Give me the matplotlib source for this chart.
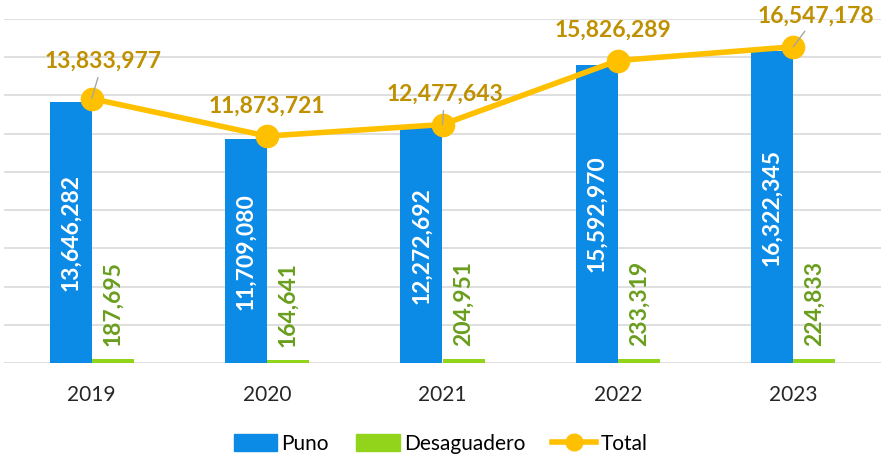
import matplotlib
matplotlib.use("Agg")
import matplotlib.pyplot as plt
from matplotlib.lines import Line2D
from matplotlib.patches import Patch
import numpy as np

plt.rcParams['font.family'] = ['Lato', 'DejaVu Sans']

YEARS = ["2019", "2020", "2021", "2022", "2023"]
PUNO = [13646282, 11709080, 12272692, 15592970, 16322345]
DESAGUADERO = [187695, 164641, 204951, 233319, 224833]
TOTAL = [13833977, 11873721, 12477643, 15826289, 16547178]

BLUE = "#0B8AE6"
GREEN = "#92D41C"
GREEN_TXT = "#6A9E1E"
GOLD = "#FFC000"
GOLD_TXT = "#BF9000"

# label offsets (pixels) for the total labels, with leader lines where far
TOTAL_OFFSETS = [(11, 37), (0, 30), (2, 30), (-5, 30), (23, 31)]
LEADER = [True, False, True, False, True]

fig = plt.figure(figsize=(8.81, 4.57), dpi=100)
ax = fig.add_axes([4 / 881, 94 / 457, 877 / 881, 344 / 457])

x = np.arange(len(YEARS))
w = 0.24
ax.bar(x - w / 2, PUNO, width=w, color=BLUE, zorder=2)
ax.bar(x + w / 2, DESAGUADERO, width=w, color=GREEN, zorder=2)
ax.plot(x, TOTAL, color=GOLD, linewidth=4, marker="o", markersize=16, zorder=4)

for xi, v in zip(x, PUNO):
    ax.text(xi - w / 2, v / 2, f"{v:,}", rotation=90, ha="center", va="center",
            color="white", fontsize=16.5, fontweight="bold", zorder=3)
for xi, v in zip(x, DESAGUADERO):
    ax.annotate(f"{v:,}", (xi + w / 2, v), xytext=(0, 13), textcoords="offset pixels",
                rotation=90, ha="center", va="bottom", color=GREEN_TXT,
                fontsize=16.5, fontweight="bold", zorder=3)
for xi, v, off, lead in zip(x, TOTAL, TOTAL_OFFSETS, LEADER):
    props = dict(arrowstyle="-", color="#a6a6a6", lw=1, shrinkA=2, shrinkB=0) if lead else None
    ax.annotate(f"{v:,}", (xi, v), xytext=off, textcoords="offset pixels",
                ha="center", va="center", color=GOLD_TXT, fontsize=16.5,
                fontweight="bold", arrowprops=props, zorder=5)

ax.set_xlim(-0.5, len(YEARS) - 0.5)
ax.set_ylim(0, 18_000_000)
ax.set_yticks(np.arange(0, 18_000_001, 2_000_000))
ax.set_yticklabels([])
ax.tick_params(axis="y", length=0)
ax.set_xticks(x)
ax.set_xticklabels(YEARS, fontsize=15, color="#262626")
ax.tick_params(axis="x", length=0, pad=16)
ax.grid(axis="y", color="#d9d9d9", linewidth=1.2, zorder=0)
ax.set_axisbelow(True)
for s in ax.spines.values():
    s.set_visible(False)

handles = [
    Patch(color=BLUE, label="Puno"),
    Patch(color=GREEN, label="Desaguadero"),
    Line2D([0], [0], color=GOLD, linewidth=4, marker="o", markersize=12, label="Total"),
]
fig.legend(handles=handles, loc="center", bbox_to_anchor=(0.5, 13 / 457), ncol=3,
           frameon=False, fontsize=15, handlelength=2.1, handletextpad=0.2,
           columnspacing=1.3, handleheight=0.9)

fig.savefig("out.png", dpi=100)
